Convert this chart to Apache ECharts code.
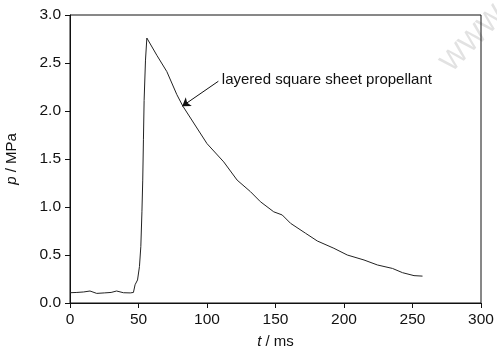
<!DOCTYPE html>
<html>
<head>
<meta charset="utf-8">
<script src="https://cdn.jsdelivr.net/npm/echarts@6/dist/echarts.min.js"></script>
<style>html,body{margin:0;padding:0;background:#fff;}#c{width:497px;height:349px;}</style>
</head>
<body>
<div id="c"></div>
<script>
// time in ms
const timeMs = [0, 5, 10, 14.6, 19.5, 25, 30, 34, 39, 44, 46.3, 47.5, 49.3, 50.7, 51.7, 52.5, 53.1, 53.6, 54.1, 55.1, 56.1,
  63.4, 70.7, 78, 82.4, 100, 112.2, 122, 131.7, 139, 148.7, 154.9, 161, 172, 180.5, 192.6, 202.4, 214.6, 224.4, 235.4, 242.7, 251.1, 257.3];
// pressure in MPa
const pressure = [0.107, 0.11, 0.115, 0.125, 0.10, 0.105, 0.11, 0.125, 0.107, 0.105, 0.11, 0.19, 0.24, 0.38, 0.59, 0.95, 1.28, 1.70, 2.11, 2.53, 2.76,
  2.58, 2.41, 2.17, 2.05, 1.66, 1.47, 1.28, 1.16, 1.055, 0.95, 0.917, 0.83, 0.726, 0.646, 0.57, 0.5, 0.448, 0.396, 0.36, 0.316, 0.285, 0.28];
const xTicks = [0, 50, 100, 150, 200, 250, 300];
const yTicks = [0.0, 0.5, 1.0, 1.5, 2.0, 2.5, 3.0];
const annotationText = 'layered square sheet propellant';
const arrowFrom = [108.3, 2.31];
const arrowTo = [81.9, 2.05];
const labelAt = [110.8, 2.32];

const font = "'Liberation Sans', Arial, sans-serif";
const chart = echarts.init(document.getElementById('c'));
chart.setOption({
  animation: false,
  backgroundColor: '#fff',
  textStyle: { fontFamily: font },
  grid: { left: 70, right: 16, top: 15, bottom: 46, outerBoundsMode: 'none', containLabel: false,
    show: true, borderColor: '#111', borderWidth: 1, backgroundColor: 'transparent' },
  graphic: [{
    type: 'text', x: 436, y: 58, rotation: 0.8, z: -1,
    style: { text: 'WWW', fill: '#e2e2e2', fontSize: 28, fontFamily: 'Liberation Sans', fontWeight: 'normal' }
  }],
  xAxis: {
    type: 'value', min: xTicks[0], max: xTicks[xTicks.length - 1], interval: 50,
    name: '{i|t} / ms', nameLocation: 'middle', nameGap: 31,
    nameTextStyle: { color: '#111', fontSize: 15, rich: { i: { fontStyle: 'italic', fontSize: 15, color: '#111' } } },
    axisLine: { lineStyle: { color: '#111', width: 1 } },
    axisTick: { show: true, length: 5, lineStyle: { color: '#111' } },
    axisLabel: { color: '#111', fontSize: 15.5, margin: 9 },
    splitLine: { show: false }
  },
  yAxis: {
    type: 'value', min: yTicks[0], max: yTicks[yTicks.length - 1], interval: 0.5,
    name: '{i|p} / MPa', nameLocation: 'middle', nameGap: 51,
    nameTextStyle: { color: '#111', fontSize: 15, rich: { i: { fontStyle: 'italic', fontSize: 15, color: '#111' } } },
    axisLine: { show: true, lineStyle: { color: '#111', width: 1 } },
    axisTick: { show: true, length: 5, lineStyle: { color: '#111' } },
    axisLabel: { color: '#111', fontSize: 15.5, margin: 9, formatter: v => v.toFixed(1) },
    splitLine: { show: false }
  },
  series: [{
    type: 'line',
    data: timeMs.map((t, i) => [t, pressure[i]]),
    showSymbol: false,
    lineStyle: { color: '#222', width: 1 },
    markLine: {
      silent: true, symbol: ['none', 'arrow'], symbolSize: 8,
      lineStyle: { color: '#111', width: 1, type: 'solid' },
      label: { show: false },
      data: [[{ coord: arrowFrom }, { coord: arrowTo }]]
    },
    markPoint: {
      silent: true, symbol: 'circle', symbolSize: 0,
      label: { show: true, position: 'right', distance: 0, color: '#111', fontSize: 15, fontFamily: font, formatter: annotationText },
      data: [{ coord: labelAt }]
    }
  }]
});
</script>
</body>
</html>
